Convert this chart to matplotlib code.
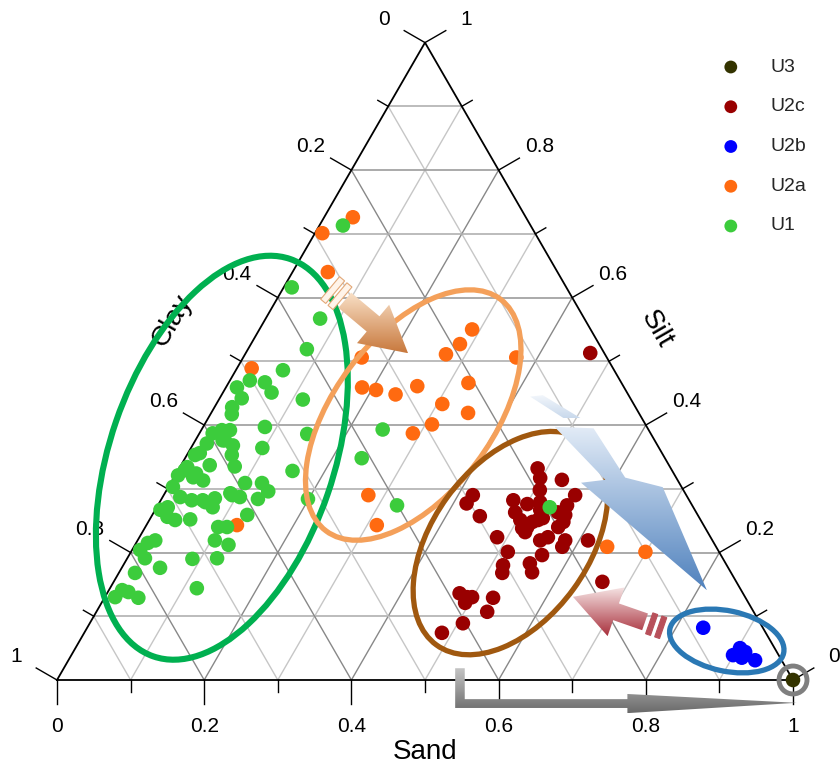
import numpy as np
import matplotlib.pyplot as plt
from matplotlib.patches import Ellipse, Polygon, FancyArrow, Circle
from matplotlib.colors import LinearSegmentedColormap

plt.rcParams['font.family'] = ['Liberation Sans', 'DejaVu Sans']

H = np.sqrt(3) / 2

# compositions as (sand, silt) fractions; clay = 1 - sand - silt
u1_sand = [0.032, 0.011, 0.074, 0.080, 0.064, 0.027, 0.049, 0.066, 0.015, 0.030,
           0.024, 0.029, 0.114, 0.084, 0.147, 0.028, 0.039, 0.040, 0.097, 0.246,
           0.240, 0.325, 0.199, 0.156, 0.018, 0.018, 0.016, 0.037, 0.055, 0.061,
           0.074, 0.039, 0.010, 0.004, 0.026, 0.042, 0.006, 0.024, 0.042, 0.057,
           0.072, 0.076, 0.015, 0.007, 0.022, 0.035, 0.055, 0.099, 0.089, 0.105,
           0.101, 0.124, 0.139, 0.131, 0.093, 0.129, 0.111, 0.105, 0.127, 0.122,
           0.089, 0.118, 0.052, 0.016, 0.024, 0.011, 0.024, 0.022, 0.018, 0.028,
           0.014, 0.046, 0.009, 0.011, 0.062, 0.027, 0.534]
u1_silt = [0.713, 0.616, 0.567, 0.519, 0.486, 0.470, 0.467, 0.451, 0.459, 0.442,
           0.428, 0.417, 0.440, 0.397, 0.386, 0.392, 0.392, 0.376, 0.364, 0.393,
           0.348, 0.274, 0.284, 0.328, 0.387, 0.371, 0.356, 0.376, 0.368, 0.353,
           0.335, 0.337, 0.334, 0.321, 0.318, 0.313, 0.303, 0.287, 0.282, 0.282,
           0.285, 0.271, 0.271, 0.267, 0.256, 0.251, 0.252, 0.240, 0.293, 0.287,
           0.309, 0.309, 0.296, 0.284, 0.290, 0.259, 0.240, 0.219, 0.212, 0.191,
           0.190, 0.144, 0.176, 0.215, 0.219, 0.204, 0.191, 0.168, 0.141, 0.138,
           0.130, 0.129, 0.329, 0.353, 0.279, 0.324, 0.271]

u2a_sand = [0.039, 0.010, 0.048, 0.289, 0.284, 0.273, 0.161, 0.371, 0.185, 0.206,
            0.236, 0.259, 0.326, 0.307, 0.349, 0.309, 0.290, 0.278, 0.313, 0.020,
            0.123, 0.643, 0.699]
u2a_silt = [0.726, 0.701, 0.640, 0.550, 0.527, 0.511, 0.506, 0.506, 0.459, 0.455,
            0.448, 0.461, 0.466, 0.433, 0.419, 0.401, 0.387, 0.290, 0.243, 0.489,
            0.243, 0.209, 0.201]

u2b_sand = [0.837, 0.903, 0.899, 0.913, 0.933, 0.913]
u2b_silt = [0.082, 0.050, 0.039, 0.035, 0.031, 0.044]

u2c_sand = [0.468, 0.487, 0.498, 0.529, 0.507, 0.420, 0.418, 0.446, 0.479, 0.491,
            0.501, 0.517, 0.523, 0.528, 0.533, 0.559, 0.556, 0.549, 0.561, 0.564,
            0.561, 0.504, 0.519, 0.522, 0.513, 0.520, 0.555, 0.547, 0.581, 0.582,
            0.612, 0.486, 0.512, 0.561, 0.551, 0.561, 0.516, 0.521, 0.479, 0.492,
            0.499, 0.494, 0.528, 0.531, 0.507, 0.486, 0.664]
u2c_silt = [0.513, 0.332, 0.317, 0.314, 0.298, 0.290, 0.277, 0.257, 0.282, 0.263,
            0.276, 0.279, 0.267, 0.251, 0.254, 0.290, 0.274, 0.263, 0.259, 0.248,
            0.240, 0.251, 0.240, 0.248, 0.238, 0.232, 0.224, 0.219, 0.219, 0.209,
            0.219, 0.224, 0.201, 0.196, 0.183, 0.169, 0.180, 0.168, 0.136, 0.130,
            0.130, 0.121, 0.129, 0.107, 0.089, 0.074, 0.154]

u3_sand = [1.0]
u3_silt = [0.0]

groups = [
    ('U3', u3_sand, u3_silt, '#333300'),
    ('U2c', u2c_sand, u2c_silt, '#990000'),
    ('U2b', u2b_sand, u2b_silt, '#0000ff'),
    ('U2a', u2a_sand, u2a_silt, '#ff6a10'),
    ('U1', u1_sand, u1_silt, '#3ccc3c'),
]
tick_vals = [0, 0.1, 0.2, 0.3, 0.4, 0.5, 0.6, 0.7, 0.8, 0.9, 1.0]


def to_xy(sand, silt):
    sand = np.asarray(sand, float)
    silt = np.asarray(silt, float)
    return sand + silt / 2, silt * H


def gradient_fill(ax, patch, c_top, c_bottom, zorder=5):
    """Fill a patch with a vertical colour gradient (clipped image)"""
    patch.set_facecolor('none')
    patch.set_edgecolor('none')
    ax.add_patch(patch)
    ext = patch.get_path().get_extents()
    cmap = LinearSegmentedColormap.from_list('g', [c_bottom, c_top])
    grad = np.linspace(0, 1, 256).reshape(-1, 1)
    im = ax.imshow(grad, extent=[ext.x0, ext.x1, ext.y0, ext.y1], origin='lower',
                   cmap=cmap, aspect='auto', zorder=zorder, interpolation='bilinear')
    im.set_clip_path(patch)


def stripes(ax, x0, y0, x1, y1, offsets, thick, half, fc, ec, zorder=5):
    """Small bars across the tail of an arrow"""
    d = np.array([x1 - x0, y1 - y0])
    d = d / np.linalg.norm(d)
    n = np.array([-d[1], d[0]])
    for off in offsets:
        c = np.array([x0, y0]) - d * off
        pts = [c + n * half, c + n * half - d * thick, c - n * half - d * thick, c - n * half]
        ax.add_patch(Polygon(pts, closed=True, fc=fc, ec=ec, lw=0.8, zorder=zorder))


fig = plt.figure(figsize=(8.4, 7.72), dpi=100)
ax = fig.add_axes([0, 0, 1, 1])
ax.axis('off')

# grid
for k in tick_vals[1:-1]:
    major = round(k * 10) % 2 == 0
    ch = '#9c9c9c' if major else '#b0b0b0'
    cd = '#888888' if major else '#c6c6c6'
    ax.plot([k / 2, 1 - k / 2], [k * H, k * H], color=ch, lw=1.2, zorder=1)
    ax.plot([k, k + (1 - k) / 2], [0, (1 - k) * H], color=cd, lw=1.0, zorder=1)
    ax.plot([1 - k, (1 - k) / 2], [0, (1 - k) * H], color=cd, lw=1.0, zorder=1)
ax.plot([0, 1, 0.5, 0], [0, 0, H, 0], color='black', lw=1.3, zorder=2)

# ticks and tick labels
L_MAJ, L_MIN, L_LAB = 24 / 736, 12 / 736, 47 / 736
dirs = {'sand': (0, -1), 'clay': (-np.cos(np.pi / 6), 0.5), 'silt': (np.cos(np.pi / 6), 0.5)}
for k in tick_vals:
    major = round(k * 10) % 2 == 0
    L = L_MAJ if major else L_MIN
    bases = {'sand': (k, 0), 'clay': ((1 - k) / 2, (1 - k) * H), 'silt': (1 - k / 2, k * H)}
    for name, (bx, by) in bases.items():
        dx, dy = dirs[name]
        ax.plot([bx, bx + L * dx], [by, by + L * dy], color='black', lw=1.0, zorder=2)
        if major:
            ax.text(bx + L_LAB * dx, by + L_LAB * dy, f'{k:g}', ha='center', va='center',
                    fontsize=15, color='black')

ax.text(0.5, -0.098, 'Sand', ha='center', va='center', fontsize=20)
ax.text(0.156, 0.489, 'Clay', ha='center', va='center', fontsize=20, rotation=60)
ax.text(0.815, 0.476, 'Silt', ha='center', va='center', fontsize=20, rotation=-60)

# data points
for name, s, t, col in groups:
    x, y = to_xy(s, t)
    ax.scatter(x, y, s=110, color=col, edgecolors='none', zorder=3)

# legend (drawn by hand to match the layout)
for i, (name, s, t, col) in enumerate(groups):
    yy = 1 - (67 + 39.75 * i) / 772
    ax.scatter([0.870], [yy], s=85, color=col, edgecolors='none', transform=ax.transAxes,
               zorder=6, clip_on=False)
    ax.text(0.917, yy, name, transform=ax.transAxes, ha='left', va='center',
            fontsize=14, color='#262626')

# grouping ellipses
ellipses = [
    ((0.224, 0.302), 0.571, 0.304, 71, '#00b050', 4.4),
    ((0.484, 0.360), 0.394, 0.215, 53, '#f4a05a', 3.8),
    ((0.616, 0.186), 0.342, 0.212, 54, '#a0580f', 3.8),
    ((0.910, 0.053), 0.158, 0.082, -12, '#2a78b4', 3.8),
]
for (cx, cy), w, h, ang, col, lw in ellipses:
    ax.add_patch(Ellipse((cx, cy), w, h, angle=ang, fill=False, ec=col, lw=lw, zorder=4))
ax.add_patch(Circle((1.0, 0.0), 0.019, fill=False, ec='#7f7f7f', lw=3.5, zorder=4))

# orange arrow (U1 -> U2a)
ox0, oy0, ox1, oy1 = 0.391, 0.516, 0.477, 0.444
gradient_fill(ax, FancyArrow(ox0, oy0, ox1 - ox0, oy1 - oy0, width=0.027, head_width=0.068,
                             head_length=0.062, length_includes_head=True),
              '#f9e1c8', '#c8783c')
stripes(ax, ox0, oy0, ox1, oy1, [0.004, 0.017], 0.009, 0.02, '#fff4ea', '#e2a878')

# blue lightning arrow (U2a -> U2b)
gradient_fill(ax, Polygon([(0.643, 0.385), (0.660, 0.387), (0.711, 0.356), (0.688, 0.356)]),
              '#f2f6fb', '#c9d9ec')
gradient_fill(ax, Polygon([(0.676, 0.344), (0.729, 0.342), (0.772, 0.275), (0.823, 0.262),
                           (0.883, 0.122), (0.712, 0.268), (0.745, 0.272)]),
              '#e3ecf7', '#4f81bd')

# red arrow (U2b -> U2c)
rx0, ry0, rx1, ry1 = 0.799, 0.079, 0.701, 0.113
gradient_fill(ax, FancyArrow(rx0, ry0, rx1 - rx0, ry1 - ry0, width=0.024, head_width=0.07,
                             head_length=0.062, length_includes_head=True),
              '#f6e4e4', '#a8303c')
stripes(ax, rx0, ry0, rx1, ry1, [0.006, 0.019], 0.007, 0.015, '#b8505a', '#b8505a')

# grey L-shaped arrow to U3
gradient_fill(ax, Polygon([(0.541, 0.016), (0.554, 0.016), (0.554, -0.026), (0.775, -0.026),
                           (0.775, -0.019), (1.005, -0.031), (0.775, -0.045), (0.775, -0.038),
                           (0.541, -0.038)]),
              '#c4c4c4', '#6a6a6a')

ax.set_xlim(-57 / 736, 783 / 736)
ax.set_ylim(-92 / 736, 680 / 736)

plt.savefig('out.png', dpi=100)
plt.close()
